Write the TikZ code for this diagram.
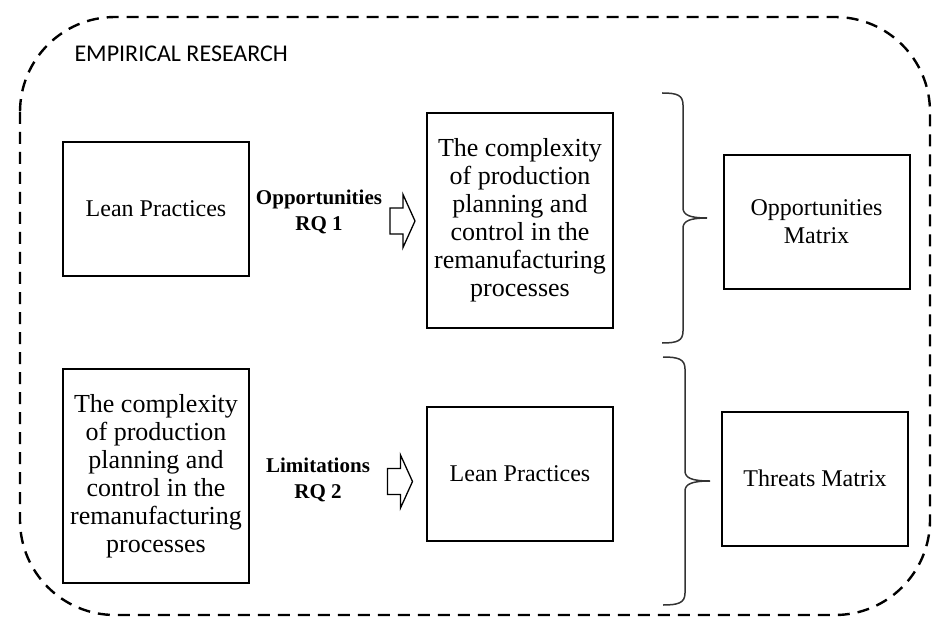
\documentclass[tikz,border=0pt]{standalone}
\usepackage{fontspec}
\setmainfont{Liberation Serif}
\newfontfamily\headfont{Carlito}

\begin{document}
\begin{tikzpicture}[x=1pt,y=-1pt,
  box/.style={draw,line width=2pt,minimum width=186pt,minimum height=134pt,
    inner sep=0pt,align=center,font=\fontsize{24}{28}\selectfont},
  tallbox/.style={box,minimum height=214pt,font=\fontsize{26}{28}\selectfont},
  rq/.style={align=center,font=\fontsize{21}{26}\selectfont\bfseries},
  hollow/.pic={\draw[line width=1.3pt,line join=miter]
    (-12.5,-13) -- (0.5,-13) -- (0.5,-26.5) -- (12.5,0) -- (0.5,26.5) -- (0.5,13) -- (-12.5,13) -- cycle;},
  bracket/.style={line width=1.5pt,black!80},
  frame/.style={dashed,dash pattern=on 12pt off 8pt,line width=2.4pt,rounded corners=95pt}]
\useasboundingbox (0,0) rectangle (933,617);
% outer dashed region
\draw[frame] (20,17) rectangle (930,615);
\node[anchor=west,font=\headfont\fontsize{24}{28}\selectfont] (title) at (71,54) {EMPIRICAL RESEARCH};
% RQ 1 row
\node[box] (leanA) at (156,209) {Lean Practices};
\node[rq] (rq1) at (319,212) {Opportunities\\RQ 1};
\pic (arr1) at (402.5,221) {hollow};
\node[tallbox] (complexB) at (520,220.5) {The complexity\\of production\\planning and\\control in the\\remanufacturing\\processes};
\node[box] (oppD) at (816.5,222) {Opportunities\\Matrix};
% RQ 2 row
\node[tallbox] (complexC) at (156,476) {The complexity\\of production\\planning and\\control in the\\remanufacturing\\processes};
\node[rq] (rq2) at (318,480) {Limitations\\RQ 2};
\pic (arr2) at (400,481.5) {hollow};
\node[box] (leanF) at (520,474) {Lean Practices};
\node[box] (threatE) at (815,478.5) {Threats Matrix};
% braces
\draw[bracket] (662,93) .. controls (677,93) and (683,95) .. (683,105) -- (683,208)
  .. controls (683,215) and (690,218) .. (707,218)
  .. controls (690,218) and (683,221) .. (683,228) -- (683,331)
  .. controls (683,341) and (677,343) .. (662,343);
\draw[bracket] (663,357) .. controls (678,357) and (685,359) .. (685,369) -- (685,471)
  .. controls (685,478) and (692,481) .. (710,481)
  .. controls (692,481) and (685,484) .. (685,491) -- (685,593)
  .. controls (685,603) and (678,605) .. (663,605);
\end{tikzpicture}
\end{document}
